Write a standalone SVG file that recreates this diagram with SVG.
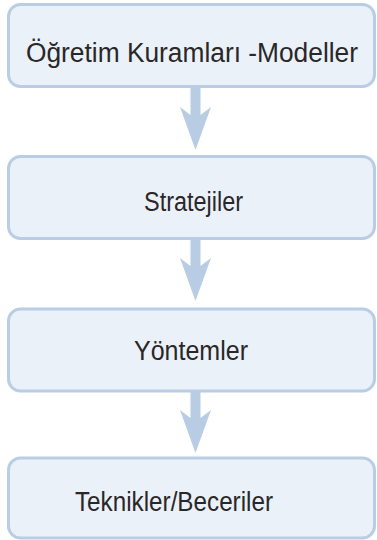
<svg xmlns="http://www.w3.org/2000/svg" width="377" height="540" viewBox="0 0 377 540">
  <style>
    .box { fill: #eaf1f9; stroke: #b9cde4; stroke-width: 3; }
    .label { font-family: "Liberation Sans", Arial, sans-serif; font-size: 27px; fill: #2a2728; }
    .arrow { fill: #b8cde4; }
  </style>
  <rect width="377" height="540" fill="#ffffff"/>

  <!-- connectors: thick downward block arrows -->
  <g id="connectors">
    <polygon class="arrow" points="190.5,87 200.5,87 200.5,115 211,107 195.5,150 180,107 190.5,115"/>
    <polygon class="arrow" points="190.5,239 200.5,239 200.5,266 211,258 195.5,301 180,258 190.5,266"/>
    <polygon class="arrow" points="190.5,392 200.5,392 200.5,418 211,410 195.5,453 180,410 190.5,418"/>
  </g>

  <g id="node-kuramlar">
    <rect class="box" x="8.5" y="4.5" width="366" height="82" rx="12"/>
    <text class="label" x="26" y="62" textLength="332" lengthAdjust="spacingAndGlyphs">Öğretim Kuramları -Modeller</text>
  </g>

  <g id="node-stratejiler">
    <rect class="box" x="8.5" y="156.5" width="366" height="82" rx="12"/>
    <text class="label" x="144" y="211" textLength="99" lengthAdjust="spacingAndGlyphs">Stratejiler</text>
  </g>

  <g id="node-yontemler">
    <rect class="box" x="8.5" y="309" width="366" height="82" rx="12"/>
    <text class="label" x="134" y="359.5" textLength="114" lengthAdjust="spacingAndGlyphs">Yöntemler</text>
  </g>

  <g id="node-teknikler">
    <rect class="box" x="8.5" y="458" width="366" height="80" rx="12"/>
    <text class="label" x="75" y="511" textLength="198" lengthAdjust="spacingAndGlyphs">Teknikler/Beceriler</text>
  </g>
</svg>
